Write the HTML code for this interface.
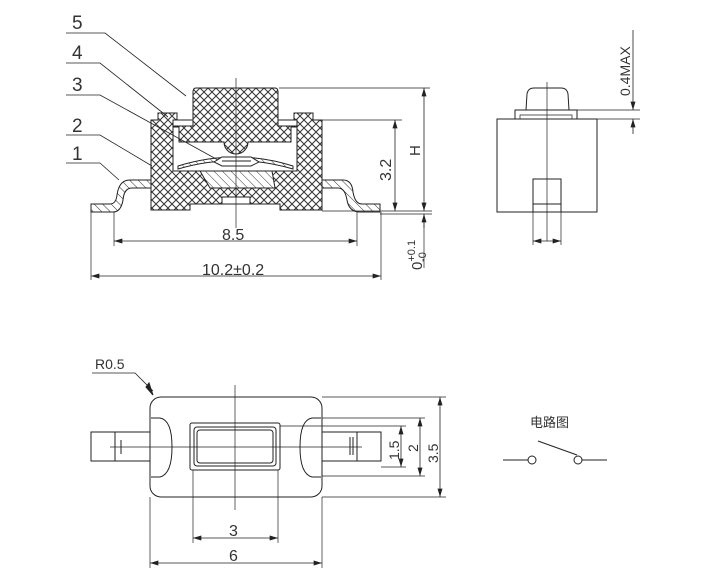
<!DOCTYPE html>
<html><head><meta charset="utf-8"><style>
html,body{margin:0;padding:0;background:#fff;width:719px;height:588px;overflow:hidden}
svg{display:block}
text{font-family:"Liberation Sans","Noto Sans CJK SC",sans-serif;fill:#333}
</style></head><body>
<svg width="719" height="588" viewBox="0 0 719 588" xmlns="http://www.w3.org/2000/svg">
<defs>
<pattern id="xh" width="8" height="8" patternUnits="userSpaceOnUse">
<rect width="8" height="8" fill="#fff"/>
<path d="M0,0L8,8M8,0L0,8" stroke="#333" stroke-width="1"/>
</pattern>
<pattern id="dh" width="6" height="6" patternUnits="userSpaceOnUse" patternTransform="rotate(-45)">
<rect width="6" height="6" fill="#fff"/>
<path d="M0,0L0,6" stroke="#333" stroke-width="1"/>
</pattern>
<marker id="ar" viewBox="0 0 10 6" refX="10" refY="3" markerWidth="9" markerHeight="5" orient="auto-start-reverse" markerUnits="userSpaceOnUse"><path d="M0,0L10,3L0,6z" fill="#222"/></marker>
</defs>
<g stroke="#222" stroke-width="1" fill="none">
<path d="M91,204 L110,204 Q116,204 117,195 Q119,180 130,180 L343,180 Q352,180 353,192 Q355,204 362,204 L380,204 L380,212 L360,212 Q349,212 347,200 Q345,188 338,188 L132,188 Q124,188 123,200 Q121,212 113,212 L91,212 Z" fill="url(#dh)"/>
<path d="M151,120 L158,120 L158,113 L177,113 L177,120 L294,120 L294,113 L313,113 L313,120 L322,120 L322,210 L280,210 L280,204 L190,204 L190,210 L151,210 Z" fill="url(#xh)"/>
<rect x="173" y="127" width="124" height="44" fill="#fff"/>
<rect x="222" y="197" width="28" height="7" fill="#fff"/>
<path d="M200,171 L272,171 L275,188 L210,188 Z" fill="url(#dh)"/>
<path d="M196,88 L275,88 Q278,88 278,92 L278,120 L297,120 L297,127 L291,127 L291,142 L248,142 A12,12 0 0 1 224,142 L179,142 L179,127 L173,127 L173,120 L193,120 L193,92 Q193,88 196,88 Z" fill="url(#xh)"/>
<path d="M173,120 L193,120 L193,126 L173,126 Z M278,120 L297,120 L297,126 L278,126 Z" fill="#fff"/>
<path d="M178,166 Q236,148 293,166 L293,169 Q236,152 178,169 Z" fill="url(#dh)"/>
<path d="M214,162 L222,157 L251,157 L259,162 L251,166 L222,166 Z" fill="#fff"/>
<line x1="222" y1="161" x2="251" y2="161"/>
<line x1="236" y1="78" x2="236" y2="228" stroke-width="0.7"/>
<path d="M66,33 L105,33 L186,96" stroke-width="0.8"/>
<path d="M66,63 L100,63 L168,117" stroke-width="0.8"/>
<path d="M66,95 L100,95 L218,160" stroke-width="0.8"/>
<path d="M66,135 L100,135 L152,166" stroke-width="0.8"/>
<path d="M66,163 L100,163 L119,180" stroke-width="0.8"/>
<line x1="279" y1="88" x2="430" y2="88" stroke-width="0.7"/>
<line x1="313" y1="120" x2="402" y2="120" stroke-width="0.7"/>
<line x1="322" y1="211" x2="432" y2="211" stroke-width="0.7"/>
<line x1="380" y1="214" x2="432" y2="214" stroke-width="0.7"/>
<line x1="424" y1="88" x2="424" y2="211" marker-start="url(#ar)" marker-end="url(#ar)" stroke-width="0.8"/>
<line x1="395" y1="120" x2="395" y2="211" marker-start="url(#ar)" marker-end="url(#ar)" stroke-width="0.8"/>
<line x1="424" y1="228" x2="424" y2="214" marker-end="url(#ar)" stroke-width="0.8"/>
<line x1="424" y1="214" x2="424" y2="268" stroke-width="0.7"/>
<line x1="114" y1="212" x2="114" y2="246" stroke-width="0.7"/>
<line x1="357" y1="212" x2="357" y2="246" stroke-width="0.7"/>
<line x1="114" y1="241" x2="357" y2="241" marker-start="url(#ar)" marker-end="url(#ar)" stroke-width="0.8"/>
<line x1="91" y1="212" x2="91" y2="280" stroke-width="0.7"/>
<line x1="381" y1="212" x2="381" y2="280" stroke-width="0.7"/>
<line x1="91" y1="276" x2="381" y2="276" marker-start="url(#ar)" marker-end="url(#ar)" stroke-width="0.8"/>
<rect x="497" y="119" width="100" height="93"/>
<path d="M515,119 L515,110 L577,110 L577,119"/>
<path d="M520,119 L520,115 L572,115 L572,119" stroke-width="0.7"/>
<path d="M526,110 L527,94 Q528,88 534,88 L561,88 Q567,88 568,94 L569,110"/>
<rect x="533" y="179" width="28" height="33" fill="#fff"/>
<line x1="533" y1="204" x2="561" y2="204"/>
<line x1="547" y1="82" x2="547" y2="241" stroke-width="0.7"/>
<line x1="533" y1="212" x2="533" y2="245" stroke-width="0.7"/>
<line x1="561" y1="212" x2="561" y2="245" stroke-width="0.7"/>
<line x1="533" y1="241" x2="561" y2="241" marker-start="url(#ar)" marker-end="url(#ar)" stroke-width="0.7"/>
<line x1="569" y1="110" x2="640" y2="110" stroke-width="0.7"/>
<line x1="597" y1="119" x2="640" y2="119" stroke-width="0.7"/>
<line x1="633" y1="30" x2="633" y2="110" marker-end="url(#ar)" stroke-width="0.8"/>
<line x1="633" y1="134" x2="633" y2="119" marker-end="url(#ar)" stroke-width="0.8"/>
<rect x="150" y="397" width="172" height="100" rx="11"/>
<rect x="91" y="432" width="59" height="29"/>
<line x1="115" y1="432" x2="115" y2="461"/>
<rect x="322" y="432" width="59" height="29"/>
<line x1="357" y1="432" x2="357" y2="461"/>
<line x1="121" y1="440" x2="121" y2="454"/>
<line x1="350" y1="437" x2="350" y2="455"/>
<line x1="353" y1="437" x2="353" y2="455"/>
<path d="M151,418 L160,418 Q172,420 172,447 Q172,474 160,477 L151,477"/>
<path d="M321,418 L312,418 Q300,420 300,447 Q300,474 312,477 L321,477"/>
<rect x="190" y="423" width="90" height="47" rx="2"/>
<rect x="194" y="427" width="82" height="39" rx="3"/>
<rect x="197" y="430" width="76" height="33" rx="3"/>
<line x1="110" y1="447" x2="362" y2="447" stroke-width="0.7"/>
<line x1="235" y1="385" x2="235" y2="510" stroke-width="0.7"/>
<path d="M92,373 L135,373 L153,391" stroke-width="0.8"/>
<path d="M146,387 L153,395 L149,383 Z" fill="#222"/>
<line x1="322" y1="397" x2="446" y2="397" stroke-width="0.7"/>
<line x1="322" y1="497" x2="446" y2="497" stroke-width="0.7"/>
<line x1="322" y1="418" x2="425" y2="418" stroke-width="0.7"/>
<line x1="322" y1="476" x2="425" y2="476" stroke-width="0.7"/>
<line x1="280" y1="426" x2="406" y2="426" stroke-width="0.7"/>
<line x1="381" y1="467" x2="406" y2="467" stroke-width="0.7"/>
<line x1="401" y1="426" x2="401" y2="467" marker-start="url(#ar)" marker-end="url(#ar)" stroke-width="0.8"/>
<line x1="420" y1="418" x2="420" y2="476" marker-start="url(#ar)" marker-end="url(#ar)" stroke-width="0.8"/>
<line x1="440" y1="397" x2="440" y2="497" marker-start="url(#ar)" marker-end="url(#ar)" stroke-width="0.8"/>
<line x1="193" y1="470" x2="193" y2="543" stroke-width="0.7"/>
<line x1="278" y1="470" x2="278" y2="543" stroke-width="0.7"/>
<line x1="193" y1="538" x2="278" y2="538" marker-start="url(#ar)" marker-end="url(#ar)" stroke-width="0.8"/>
<line x1="150" y1="497" x2="150" y2="568" stroke-width="0.7"/>
<line x1="322" y1="497" x2="322" y2="568" stroke-width="0.7"/>
<line x1="150" y1="563" x2="322" y2="563" marker-start="url(#ar)" marker-end="url(#ar)" stroke-width="0.8"/>
<line x1="503" y1="460" x2="528" y2="460"/>
<circle cx="532" cy="460" r="4"/>
<circle cx="578" cy="460" r="4"/>
<line x1="582" y1="460" x2="607" y2="460"/>
<line x1="538" y1="441" x2="577" y2="455"/>
</g>
<g font-size="16">
<text x="72" y="29" font-size="19">5</text>
<text x="72" y="59" font-size="19">4</text>
<text x="72" y="91" font-size="19">3</text>
<text x="72" y="132" font-size="19">2</text>
<text x="72" y="160" font-size="19">1</text>
<text x="222" y="240">8.5</text>
<text x="202" y="275">10.2±0.2</text>
<text x="229" y="536">3</text>
<text x="229" y="561">6</text>
<text x="95" y="369" font-size="14">R0.5</text>
<text transform="translate(391,181) rotate(-90)" font-size="16">3.2</text>
<text transform="translate(420,156) rotate(-90)" font-size="15">H</text>
<text transform="translate(422,270) rotate(-90)" font-size="15">0<tspan dy="-7" font-size="11">+0.1</tspan><tspan dx="-22" dy="11" font-size="11">-0</tspan></text>
<text transform="translate(630,96) rotate(-90)" font-size="14">0.4MAX</text>
<text transform="translate(399,460) rotate(-90)" font-size="14">1.5</text>
<text transform="translate(418,452) rotate(-90)" font-size="14">2</text>
<text transform="translate(438,463) rotate(-90)" font-size="14">3.5</text>
<text x="530" y="427" font-size="13">电路图</text>
</g>
</svg>
</body></html>
